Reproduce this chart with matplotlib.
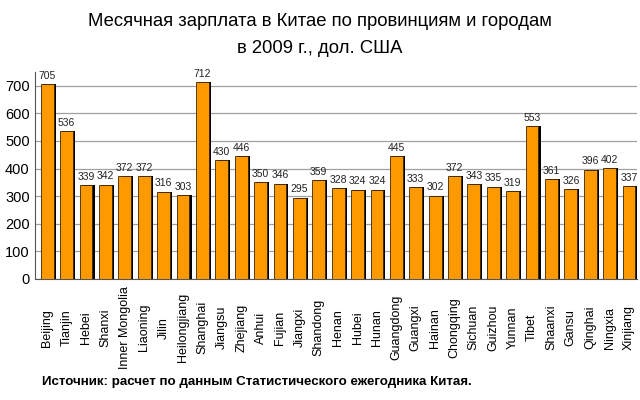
import numpy as np
import matplotlib
matplotlib.use("Agg")
import matplotlib.pyplot as plt

provinces = ["Beijing", "Tianjin", "Hebei", "Shanxi", "Inner Mongolia", "Liaoning",
             "Jilin", "Heilongjiang", "Shanghai", "Jiangsu", "Zhejiang", "Anhui",
             "Fujian", "Jiangxi", "Shandong", "Henan", "Hubei", "Hunan", "Guangdong",
             "Guangxi", "Hainan", "Chongqing", "Sichuan", "Guizhou", "Yunnan", "Tibet",
             "Shaanxi", "Gansu", "Qinghai", "Ningxia", "Xinjiang"]
wages = [705, 536, 339, 342, 372, 372, 316, 303, 712, 430, 446, 350, 346, 295, 359,
         328, 324, 324, 445, 333, 302, 372, 343, 335, 319, 553, 361, 326, 396, 402, 337]
yticks = [0, 100, 200, 300, 400, 500, 600, 700]

plt.rcParams['font.family'] = ['Liberation Sans', 'DejaVu Sans']

fig = plt.figure(figsize=(6.4, 4.0), dpi=100)
ax = fig.add_axes([0.055, 0.3025, 0.94, 0.5175])

x = np.arange(len(provinces))
w = 0.66
# dark shadow behind each bar
ax.bar(x + 0.11, wages, width=w, color='black', zorder=2)
ax.bar(x, wages, width=w, color='#FF9900', edgecolor='#3a2500', linewidth=0.6, zorder=3)

for xi, v in zip(x, wages):
    ax.text(xi, v + 12, str(v), ha='center', va='bottom', fontsize=7.5, color='#222222')

ax.set_xlim(-0.62, len(provinces) - 0.6)
ax.set_ylim(0, 750)
ax.set_yticks(yticks)
ax.tick_params(axis='y', labelsize=10.5, length=0, pad=4)
ax.set_xticks(x)
ax.set_xticklabels(provinces, rotation=90, fontsize=9, va='center')
ax.tick_params(axis='x', length=0, pad=35)
ax.yaxis.grid(True, color='#a0a0a0', linewidth=0.9, zorder=0)
ax.set_axisbelow(True)
for s in ['top', 'right']:
    ax.spines[s].set_visible(False)
ax.spines['left'].set_color('#555555')
ax.spines['bottom'].set_color('#555555')

fig.text(0.5, 0.945, "Месячная зарплата в Китае по провинциям и городам",
         ha='center', va='center', fontsize=13.3)
fig.text(0.5, 0.878, "в 2009 г., дол. США", ha='center', va='center', fontsize=13.3)
fig.text(0.065, 0.045, "Источник: расчет по данным Статистического ежегодника Китая.",
         ha='left', va='center', fontsize=9.6, fontweight='bold')

fig.savefig("out.png", dpi=100)
